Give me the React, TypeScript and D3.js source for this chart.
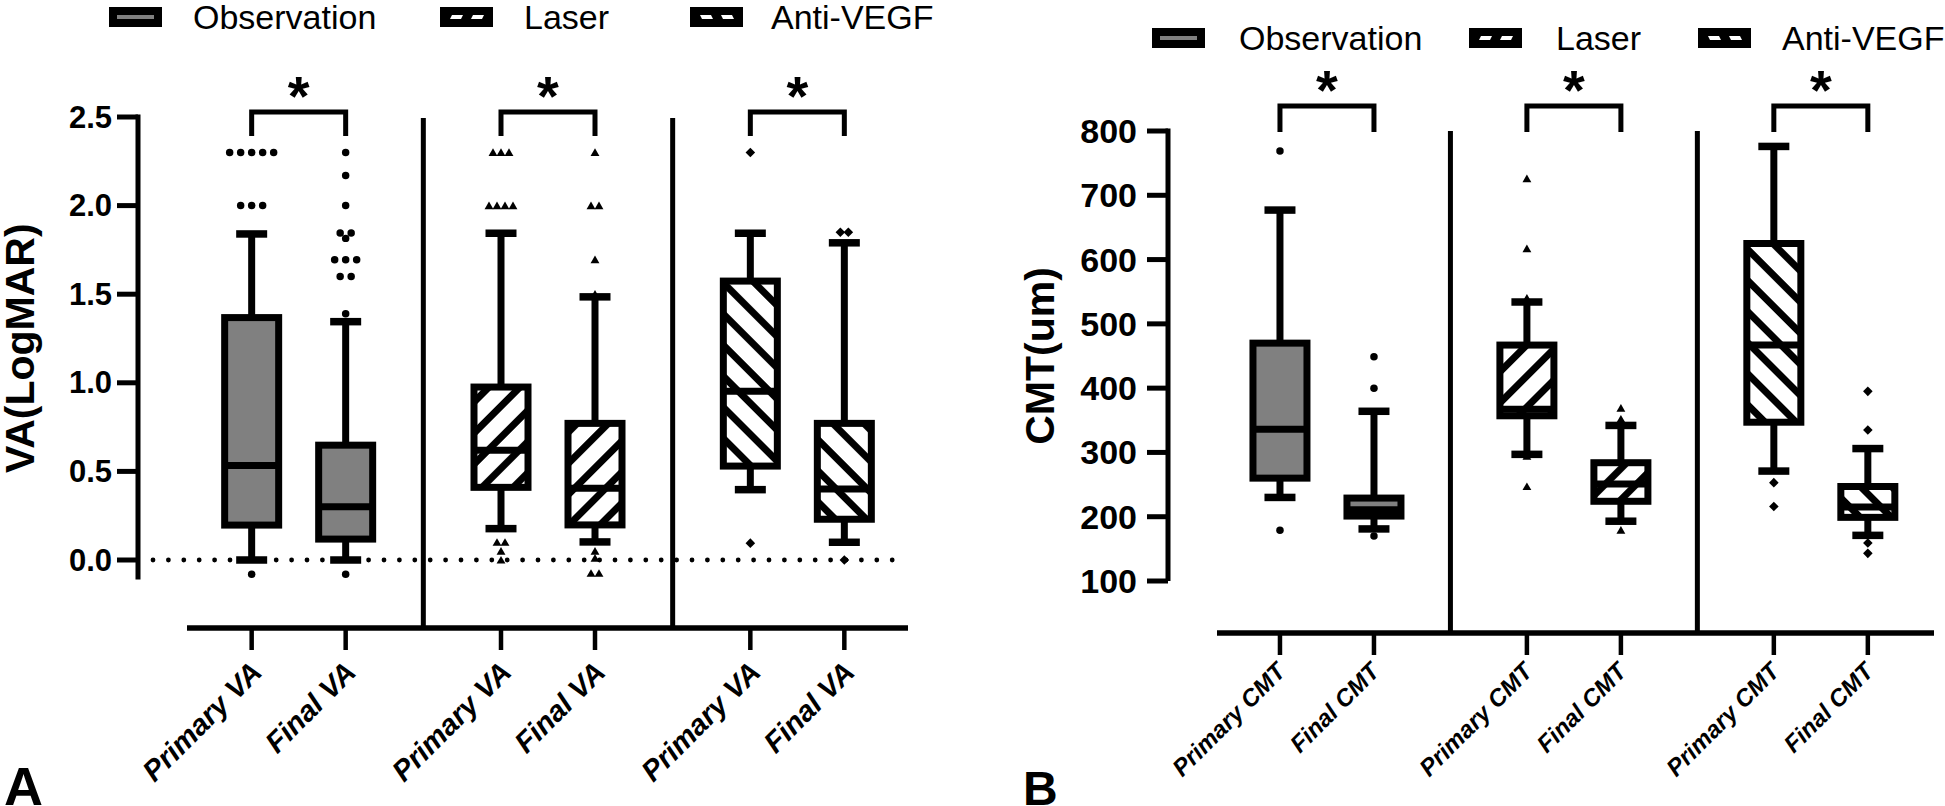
import React from "react";
import * as d3 from "d3";

// ---------------- DATA ----------------
const groups = ["Observation", "Laser", "Anti-VEGF"];
const vaTimepoints = ["Primary VA", "Final VA"];
const cmtTimepoints = ["Primary CMT", "Final CMT"];

// order of boxes: Obs-Primary, Obs-Final, Laser-Primary, Laser-Final, Anti-Primary, Anti-Final
const vaWhiskerLow = [0.0, 0.0, 0.177, 0.102, 0.397, 0.1];
const vaQ1 = [0.197, 0.118, 0.41, 0.198, 0.53, 0.23];
const vaMedian = [0.534, 0.3, 0.62, 0.405, 0.952, 0.4];
const vaQ3 = [1.368, 0.648, 0.976, 0.771, 1.574, 0.771];
const vaWhiskerHigh = [1.84, 1.345, 1.844, 1.485, 1.844, 1.79];
const vaOutliers = [
  [2.3, 2.3, 2.3, 2.3, 2.3, 2.0, 2.0, 2.0, -0.08],
  [2.3, 2.17, 2.0, 1.845, 1.845, 1.815, 1.695, 1.695, 1.695, 1.6, 1.6, 1.39, -0.08],
  [2.3, 2.3, 2.3, 2.0, 2.0, 2.0, 2.0, 0.1, 0.1, 0.05, 0.0],
  [2.3, 2.0, 2.0, 1.695, 1.5, 0.05, 0.01, -0.075, -0.075],
  [2.3, 0.095],
  [1.85, 1.85, 0.0],
];
const vaTicks = [0, 0.5, 1.0, 1.5, 2.0, 2.5];

const cmtWhiskerLow = [230, 181, 297, 193, 271, 171];
const cmtQ1 = [260, 201, 357, 224, 347, 199];
const cmtMedian = [336, 211, 367, 251, 467, 215];
const cmtQ3 = [470, 229, 467, 284, 625, 247];
const cmtWhiskerHigh = [677, 364, 534, 342, 776, 306];
const cmtOutliers = [
  [769, 179],
  [449, 400, 170],
  [726, 617, 540, 294, 247],
  [369, 352, 179],
  [253, 216],
  [395, 335, 159, 143],
];
const cmtTicks = [100, 200, 300, 400, 500, 600, 700, 800];

const significance = ["*", "*", "*"];

// ---------------- STYLE / LAYOUT ----------------
const FONT = "'Liberation Sans', Arial, Helvetica, sans-serif";
const groupFill = ["#808080", "url(#hatchFwd)", "url(#hatchBack)"];
const groupMarker = ["circle", "triangle", "diamond"];

const layoutA = {
  id: "A",
  yDomain: [0, 2.5],
  yRange: [560, 117],
  axisMin: -0.11,
  axisX: 138,
  tickFont: 31,
  tickLabelRight: 112,
  tickFmt: (v) => d3.format(".1f")(v),
  xAxisY: 628,
  xAxisRange: [187, 908],
  groupRange: [174, 922],
  xLabelFont: 29,
  xLabelDx: 12,
  xLabelDy: 46,
  titleX: 20,
  titleFont: 41,
  title: "VA(LogMAR)",
  dividerTop: 118,
  bracketTop: 112,
  bracketBottom: 136,
  starY: 115,
  zeroLine: [153, 893],
  legendY: 17,
  legendBoxX: [109, 440, 690],
  legendTextX: [193, 524, 771],
  letter: { x: 4, y: 805, size: 54 },
};

const layoutB = {
  id: "B",
  yDomain: [100, 800],
  yRange: [581, 131],
  axisMin: 100,
  axisX: 1168,
  tickFont: 34,
  tickLabelRight: 1137,
  tickFmt: (v) => d3.format("d")(v),
  xAxisY: 633,
  xAxisRange: [1217, 1934],
  groupRange: [1203.5, 1944.3],
  xLabelFont: 24,
  xLabelDx: 7,
  xLabelDy: 40,
  titleX: 1040,
  titleFont: 41,
  title: "CMT(um)",
  dividerTop: 131,
  bracketTop: 106,
  bracketBottom: 132,
  starY: 109,
  zeroLine: null,
  legendY: 38,
  legendBoxX: [1152, 1469, 1698],
  legendTextX: [1239, 1556, 1782],
  letter: { x: 1023, y: 805, size: 48 },
};

const BOX_W = 54;
const CAP_W = 31;
const INNER = 47;

function swarmOffsets(vals, y, spacing, tol = 2.5) {
  const idx = vals.map((_, i) => i).sort((a, b) => y(vals[a]) - y(vals[b]));
  const offsets = new Array(vals.length).fill(0);
  let row = [];
  const flush = () => {
    row.forEach((k, j) => (offsets[k] = (j - (row.length - 1) / 2) * spacing));
    row = [];
  };
  idx.forEach((k) => {
    if (row.length && Math.abs(y(vals[k]) - y(vals[row[0]])) > tol) flush();
    row.push(k);
  });
  flush();
  return offsets;
}

const symCircle = d3.symbol(d3.symbolCircle, 44)();
const symTriangle = d3.symbol(d3.symbolTriangle, 34)();
const symSquare = d3.symbol(d3.symbolSquare, 46)();

function Marker({ kind, x, y }) {
  if (kind === "circle") return <path d={symCircle} transform={`translate(${x},${y})`} fill="#000" />;
  if (kind === "triangle") return <path d={symTriangle} transform={`translate(${x},${y + 1})`} fill="#000" />;
  return <path d={symSquare} transform={`translate(${x},${y}) rotate(45)`} fill="#000" />;
}

function LegendSwatch({ x, yc, gi }) {
  const w = 53, h = 20;
  const top = yc - h / 2;
  return (
    <g>
      <rect x={x} y={top} width={w} height={h} fill="#000" />
      {gi === 0 && <rect x={x + 8} y={yc - 2} width={w - 16} height={4} fill="#808080" />}
      {gi === 1 &&
        [0, 1].map((k) => {
          const sx = x + 10 + k * 21;
          return <path key={k} d={`M${sx},${yc + 2} L${sx + 11},${yc + 2} L${sx + 13},${yc - 2} L${sx + 2},${yc - 2} Z`} fill="#fff" />;
        })}
      {gi === 2 &&
        [0, 1].map((k) => {
          const sx = x + 10 + k * 21;
          return <path key={k} d={`M${sx},${yc - 2} L${sx + 11},${yc - 2} L${sx + 13},${yc + 2} L${sx + 2},${yc + 2} Z`} fill="#fff" />;
        })}
    </g>
  );
}

function BoxPanel({ L, timepoints, low, q1, med, q3, high, outliers, ticks }) {
  const y = d3.scaleLinear().domain(L.yDomain).range(L.yRange);
  const gx = d3.scaleBand().domain(groups).range(L.groupRange).paddingInner(0).paddingOuter(0);
  const tx = d3.scalePoint().domain(timepoints).range([-INNER, INNER]);
  const boxes = groups.flatMap((g, gi) =>
    timepoints.map((t, ti) => ({ g, gi, t, i: gi * 2 + ti, cx: gx(g) + gx.bandwidth() / 2 + tx(t) }))
  );
  const dividers = groups.slice(0, -1).map((g) => gx(g) + gx.bandwidth());
  const axisTop = y(L.yDomain[1]);
  const axisBottom = y(L.axisMin);
  const titleY = (axisTop + axisBottom) / 2;

  return (
    <g>
      {/* legend */}
      {groups.map((g, gi) => (
        <g key={g}>
          <LegendSwatch x={L.legendBoxX[gi]} yc={L.legendY} gi={gi} />
          <text x={L.legendTextX[gi]} y={L.legendY + 12} fontSize={34} fontFamily={FONT} fill="#000">
            {g}
          </text>
        </g>
      ))}

      {/* y axis */}
      <line x1={L.axisX} x2={L.axisX} y1={axisTop - 2.5} y2={axisBottom} stroke="#000" strokeWidth={5} />
      {ticks.map((v) => (
        <g key={v}>
          <line x1={L.axisX - 21} x2={L.axisX} y1={y(v)} y2={y(v)} stroke="#000" strokeWidth={5} />
          <text
            x={L.tickLabelRight}
            y={y(v)}
            textAnchor="end"
            dominantBaseline="central"
            fontSize={L.tickFont}
            fontWeight="bold"
            fontFamily={FONT}
          >
            {L.tickFmt(v)}
          </text>
        </g>
      ))}
      <text
        transform={`translate(${L.titleX},${titleY}) rotate(-90)`}
        textAnchor="middle"
        dominantBaseline="central"
        fontSize={L.titleFont}
        fontWeight="bold"
        fontFamily={FONT}
      >
        {L.title}
      </text>

      {/* zero dotted reference line */}
      {L.zeroLine && (
        <line
          x1={L.zeroLine[0]}
          x2={L.zeroLine[1]}
          y1={y(0)}
          y2={y(0)}
          stroke="#000"
          strokeWidth={4.8}
          strokeLinecap="round"
          strokeDasharray="0 15.4"
        />
      )}

      {/* x axis */}
      <line x1={L.xAxisRange[0]} x2={L.xAxisRange[1]} y1={L.xAxisY} y2={L.xAxisY} stroke="#000" strokeWidth={5.5} />
      {dividers.map((dx, k) => (
        <line key={k} x1={dx} x2={dx} y1={L.dividerTop} y2={L.xAxisY} stroke="#000" strokeWidth={5} />
      ))}
      {boxes.map((b) => (
        <g key={b.i}>
          <line x1={b.cx} x2={b.cx} y1={L.xAxisY} y2={L.xAxisY + 22} stroke="#000" strokeWidth={4.5} />
          <text
            transform={`translate(${b.cx + L.xLabelDx},${L.xAxisY + L.xLabelDy}) rotate(-45)`}
            textAnchor="end"
            fontSize={L.xLabelFont}
            fontWeight="bold"
            fontStyle="italic"
            fontFamily={FONT}
          >
            {b.t}
          </text>
        </g>
      ))}

      {/* boxes */}
      {boxes.map((b) => {
        const i = b.i;
        return (
          <g key={"box" + i}>
            <line x1={b.cx} x2={b.cx} y1={y(q3[i])} y2={y(high[i])} stroke="#000" strokeWidth={7} />
            <line x1={b.cx} x2={b.cx} y1={y(q1[i])} y2={y(low[i])} stroke="#000" strokeWidth={7} />
            <line x1={b.cx - CAP_W / 2} x2={b.cx + CAP_W / 2} y1={y(high[i])} y2={y(high[i])} stroke="#000" strokeWidth={7.5} />
            <line x1={b.cx - CAP_W / 2} x2={b.cx + CAP_W / 2} y1={y(low[i])} y2={y(low[i])} stroke="#000" strokeWidth={7.5} />
            <rect
              x={b.cx - BOX_W / 2}
              y={y(q3[i])}
              width={BOX_W}
              height={y(q1[i]) - y(q3[i])}
              fill={groupFill[b.gi]}
              stroke="#000"
              strokeWidth={7}
            />
            <line x1={b.cx - BOX_W / 2} x2={b.cx + BOX_W / 2} y1={y(med[i])} y2={y(med[i])} stroke="#000" strokeWidth={7} />
          </g>
        );
      })}

      {/* outliers */}
      {boxes.map((b) => {
        const vals = outliers[b.i];
        const kind = groupMarker[b.gi];
        const offs = swarmOffsets(vals, y, kind === "circle" ? 11 : 8);
        return (
          <g key={"out" + b.i}>
            {vals.map((v, k) => (
              <Marker key={k} kind={kind} x={b.cx + offs[k]} y={y(v)} />
            ))}
          </g>
        );
      })}

      {/* significance brackets */}
      {groups.map((g, gi) => {
        const bx = boxes.filter((b) => b.gi === gi).map((b) => b.cx);
        return (
          <g key={"sig" + g}>
            <path
              d={`M${bx[0]},${L.bracketBottom} L${bx[0]},${L.bracketTop} L${bx[1]},${L.bracketTop} L${bx[1]},${L.bracketBottom}`}
              fill="none"
              stroke="#000"
              strokeWidth={5}
            />
            <text
              x={(bx[0] + bx[1]) / 2}
              y={L.starY}
              textAnchor="middle"
              fontSize={56}
              fontWeight="bold"
              fontFamily={FONT}
            >
              {significance[gi]}
            </text>
          </g>
        );
      })}

      <text x={L.letter.x} y={L.letter.y} fontSize={L.letter.size} fontWeight="bold" fontFamily={FONT}>
        {L.id}
      </text>
    </g>
  );
}

export default function App() {
  return (
    <svg
      width={1945}
      height={806}
      viewBox="0 0 1945 806"
      style={{ position: "fixed", left: 0, top: 0, display: "block", background: "#fff" }}
    >
      <defs>
        <pattern id="hatchFwd" patternUnits="userSpaceOnUse" width={22} height={22} patternTransform="rotate(45)">
          <rect width={22} height={22} fill="#fff" />
          <rect width={7} height={22} fill="#000" />
        </pattern>
        <pattern id="hatchBack" patternUnits="userSpaceOnUse" width={22} height={22} patternTransform="rotate(-45)">
          <rect width={22} height={22} fill="#fff" />
          <rect width={7} height={22} fill="#000" />
        </pattern>
      </defs>
      <rect width={1945} height={806} fill="#fff" />
      <BoxPanel
        L={layoutA}
        timepoints={vaTimepoints}
        low={vaWhiskerLow}
        q1={vaQ1}
        med={vaMedian}
        q3={vaQ3}
        high={vaWhiskerHigh}
        outliers={vaOutliers}
        ticks={vaTicks}
      />
      <BoxPanel
        L={layoutB}
        timepoints={cmtTimepoints}
        low={cmtWhiskerLow}
        q1={cmtQ1}
        med={cmtMedian}
        q3={cmtQ3}
        high={cmtWhiskerHigh}
        outliers={cmtOutliers}
        ticks={cmtTicks}
      />
    </svg>
  );
}
